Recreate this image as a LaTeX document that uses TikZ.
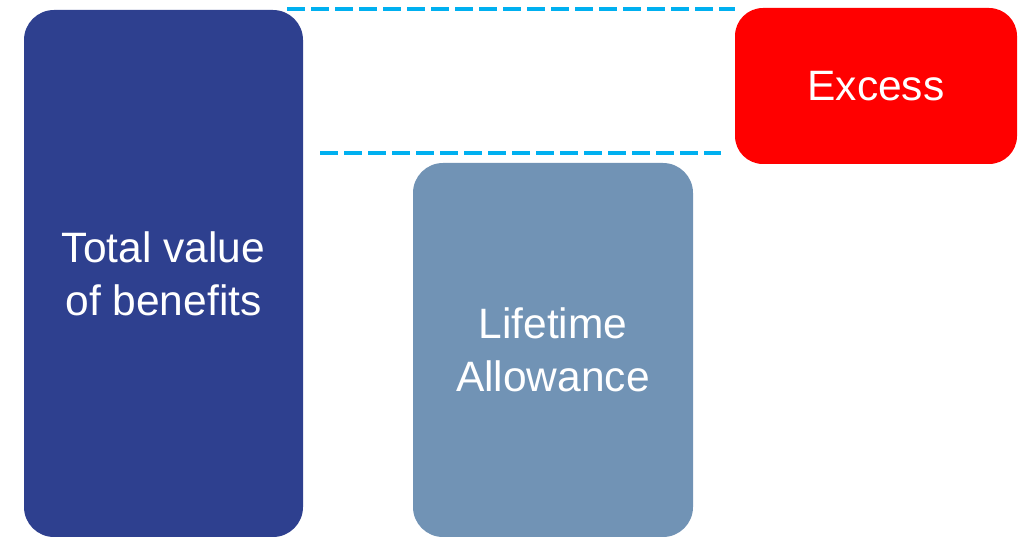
\documentclass[tikz,border=0pt]{standalone}
\usepackage{fontspec}
\setmainfont{Liberation Sans}
\definecolor{benefitblue}{RGB}{46,64,143}
\definecolor{allowblue}{RGB}{113,147,181}
\definecolor{excessred}{RGB}{255,0,0}
\definecolor{levelcyan}{RGB}{0,176,240}
\begin{document}
\begin{tikzpicture}[x = 1pt, y = -1pt,
	bar/.style = {draw = none, rounded corners = 30pt, text = white, align = center, inner sep = 0pt,
		font = \fontsize{42.5}{53}\selectfont},
	level/.style = {draw = levelcyan, line width = 4.5pt, dash pattern = on 18pt off 6pt}]
				\useasboundingbox (0,0) rectangle (1025,537);
				\node[bar, fill = benefitblue, minimum width = 279pt, minimum height = 527pt] (total) at (163.5,273.5) {Total value\\of benefits};
				\node[bar, fill = allowblue, minimum width = 280pt, minimum height = 374pt] (lta) at (553,350) {Lifetime\\Allowance};
				\node[bar, fill = excessred, minimum width = 282pt, minimum height = 156pt, rounded corners = 28pt] (excess) at (876,86) {\raisebox{-2pt}{Excess}};
				\coordinate (topstart) at (287,9);
				\coordinate (ltastart) at (320,153);
				\draw[level] (topstart) -- (topstart -| excess.west);
				\draw[level] (ltastart) -- ([xshift = -14pt]ltastart -| excess.west);
			\end{tikzpicture}
\end{document}
